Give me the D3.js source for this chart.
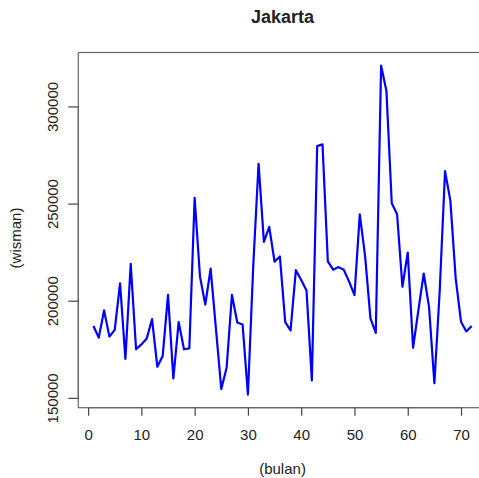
<!DOCTYPE html>
<html><head><meta charset="utf-8">
<script src="https://cdn.jsdelivr.net/npm/d3@7"></script>
<style>
html,body{margin:0;padding:0;background:#fff;overflow:hidden;}
text{font-family:"Liberation Sans",Arial,sans-serif;fill:#222;}
</style></head>
<body>
<script>
const months = d3.range(1, 73);
const wisman = [
187000,181000,195000,181500,185000,209000,170000,219000,175000,177500,
180500,190500,166000,171500,203000,160000,189000,175000,175500,253000,
212500,198000,216500,185500,154500,165500,203000,188800,187800,151700,
218000,270500,230300,238000,220100,222800,189000,184700,215700,210700,
205200,159000,279600,280500,220200,216000,217300,215900,209800,202900,
244500,222800,190900,183400,321000,308000,250200,244500,207200,224800,
175800,195200,214000,196700,157500,205000,266700,251500,211500,189200,
184200,187000];
const xTicks = [0,10,20,30,40,50,60,70];
const yTicks = [150000,200000,250000,300000];
const title = "Jakarta", xLabel = "(bulan)", yLabel = "(wisman)";

const W = 479, H = 478;
const L = 78.3, R = 486.8, T = 52.5, B = 407.7;
const svg = d3.select("body").append("svg").attr("width", W).attr("height", H);

const xe = d3.extent(months), ye = d3.extent(wisman);
const xp = (xe[1]-xe[0])*0.04, yp = (ye[1]-ye[0])*0.04;
const x = d3.scaleLinear().domain([xe[0]-xp, xe[1]+xp]).range([L, R]);
const y = d3.scaleLinear().domain([ye[0]-yp, ye[1]+yp]).range([B, T]);

// line
svg.append("path")
  .datum(months.map((m,i)=>[m, wisman[i]]))
  .attr("fill","none").attr("stroke","#0000ff").attr("stroke-width",2.2)
  .attr("stroke-linejoin","round")
  .attr("d", d3.line().x(d=>x(d[0])).y(d=>y(d[1])));

// box
svg.append("rect").attr("x",L).attr("y",T).attr("width",R-L).attr("height",B-T)
  .attr("fill","none").attr("stroke","#666").attr("stroke-width",1.2);

// x axis
const xa = svg.append("g").attr("transform",`translate(0,${B})`)
  .call(d3.axisBottom(x).tickValues(xTicks).tickSize(8).tickPadding(14).tickFormat(d3.format("d")));
xa.select(".domain").attr("d",`M${x(xTicks[0])},0H${x(xTicks[xTicks.length-1])}`).attr("stroke","#666").attr("stroke-width",1.2);
xa.selectAll(".tick line").attr("stroke","#444").attr("stroke-width",1.2);
xa.selectAll(".tick text").attr("font-size",15).attr("font-family","Liberation Sans, Arial, sans-serif").attr("fill","#222");

// y axis
const ya = svg.append("g").attr("transform",`translate(${L},0)`)
  .call(d3.axisLeft(y).tickValues(yTicks).tickSize(10).tickFormat(d3.format("d")));
ya.select(".domain").attr("d",`M0,${y(yTicks[0])}V${y(yTicks[yTicks.length-1])}`).attr("stroke","#666").attr("stroke-width",1.2);
ya.selectAll(".tick line").attr("stroke","#444").attr("stroke-width",1.2);
ya.selectAll(".tick text")
  .attr("x",null).attr("dy",null)
  .attr("text-anchor","middle")
  .attr("transform","translate(-20,0) rotate(-90)")
  .attr("font-size",15).attr("font-family","Liberation Sans, Arial, sans-serif").attr("fill","#222");

// title
svg.append("text").attr("x",(L+R)/2).attr("y",23).attr("text-anchor","middle")
  .attr("font-size",18).attr("font-weight","bold").attr("fill","#000").text(title);
// x label
svg.append("text").attr("x",(L+R)/2).attr("y",474).attr("text-anchor","middle")
  .attr("font-size",15).text(xLabel);
// y label
svg.append("text").attr("transform",`translate(21,238) rotate(-90)`).attr("text-anchor","middle")
  .attr("font-size",15).text(yLabel);
</script>
</body></html>
